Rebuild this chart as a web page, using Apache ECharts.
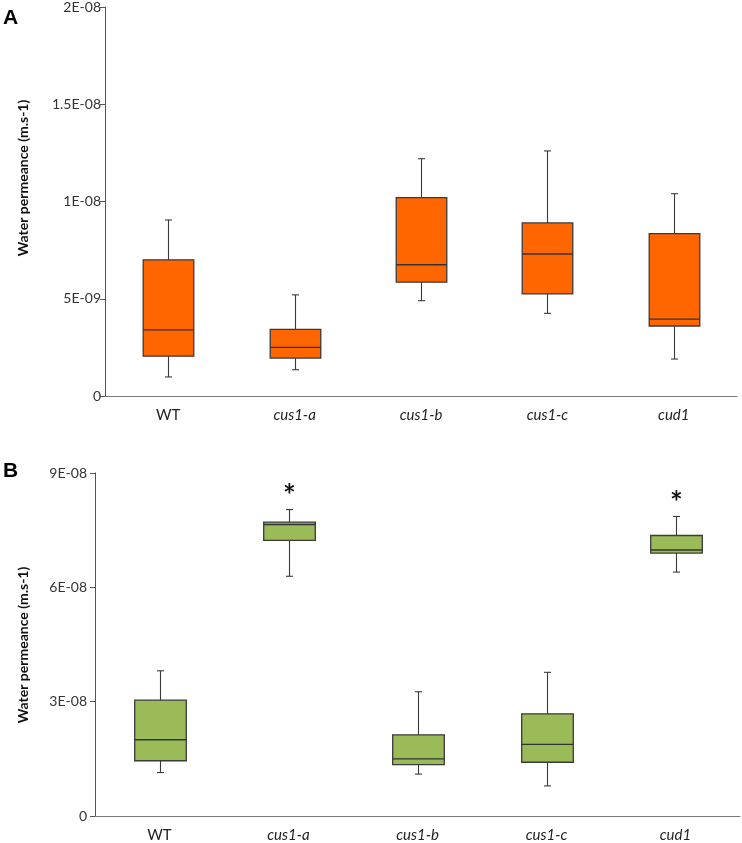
<!DOCTYPE html>
<html>
<head>
<meta charset="utf-8">
<script src="https://cdn.jsdelivr.net/npm/echarts@6/dist/echarts.min.js"></script>
<style>html,body{margin:0;padding:0;background:#fff}#c{width:742px;height:843px}</style>
</head>
<body>
<div id="c"></div>
<script>
// ---- data ----
const categories = ['WT', 'cus1-a', 'cus1-b', 'cus1-c', 'cud1'];
const italicCats = [false, true, true, true, true];
// [min, Q1, median, Q3, max]
const permeanceA = [
  [0.98e-9, 2.05e-9, 3.4e-9, 7.0e-9, 9.05e-9],
  [1.35e-9, 1.95e-9, 2.5e-9, 3.43e-9, 5.2e-9],
  [4.9e-9, 5.85e-9, 6.75e-9, 10.2e-9, 12.2e-9],
  [4.25e-9, 5.25e-9, 7.3e-9, 8.9e-9, 12.6e-9],
  [1.9e-9, 3.6e-9, 3.95e-9, 8.35e-9, 10.4e-9]
];
const permeanceB = [
  [1.14e-8, 1.45e-8, 2.0e-8, 3.04e-8, 3.81e-8],
  [6.29e-8, 7.23e-8, 7.65e-8, 7.71e-8, 8.04e-8],
  [1.10e-8, 1.35e-8, 1.50e-8, 2.13e-8, 3.26e-8],
  [0.79e-8, 1.41e-8, 1.88e-8, 2.68e-8, 3.77e-8],
  [6.40e-8, 6.90e-8, 6.98e-8, 7.36e-8, 7.86e-8]
];
const significanceB = ['', '*', '', '', '*'];
const yTicksA = ['0', '5E-09', '1E-08', '1.5E-08', '2E-08'];
const yTicksB = ['0', '3E-08', '6E-08', '9E-08'];
const yMaxA = 2e-8, yStepA = 5e-9;
const yMaxB = 9e-8, yStepB = 3e-8;
const yTitle = 'Water permeance (m.s-1)';

// ---- chart ----
const chart = echarts.init(document.getElementById('c'), null, {renderer: 'canvas'});
const FONT = 'Lato, "Open Sans", sans-serif';

function toRows(arr, sig) {
  return arr.map((d, i) => [i].concat(d).concat([sig ? sig[i] : '']));
}

function makeRender(fill) {
  return function (params, api) {
    const x = api.value(0);
    const lo = api.coord([x, api.value(1)]);
    const q1 = api.coord([x, api.value(2)]);
    const md = api.coord([x, api.value(3)]);
    const q3 = api.coord([x, api.value(4)]);
    const hi = api.coord([x, api.value(5)]);
    const star = api.value(6);
    const band = api.size([1, 0])[0];
    const bw = band * 0.4;
    const cx = Math.round(md[0]) + 0.5;
    const cap = 3.5;
    const stroke = '#3a3a3a';
    const lw = 1.1;
    const children = [
      {type: 'line', shape: {x1: cx, y1: lo[1], x2: cx, y2: hi[1]}, style: {stroke: stroke, lineWidth: lw}},
      {type: 'line', shape: {x1: cx - cap, y1: lo[1], x2: cx + cap, y2: lo[1]}, style: {stroke: stroke, lineWidth: lw}},
      {type: 'line', shape: {x1: cx - cap, y1: hi[1], x2: cx + cap, y2: hi[1]}, style: {stroke: stroke, lineWidth: lw}},
      {type: 'rect', shape: {x: cx - bw / 2, y: q3[1], width: bw, height: q1[1] - q3[1]}, style: {fill: fill, stroke: stroke, lineWidth: 1.3}},
      {type: 'line', shape: {x1: cx - bw / 2, y1: md[1], x2: cx + bw / 2, y2: md[1]}, style: {stroke: '#333', lineWidth: 1.4}}
    ];
    if (star) {
      children.push({type: 'text', x: cx, y: hi[1] - 13, style: {text: star, fill: '#111', font: 'bold 30px ' + FONT, align: 'center', verticalAlign: 'middle'}});
    }
    return {type: 'group', children: children};
  };
}

const catLabel = {
  fontFamily: FONT, fontSize: 15, color: '#222', margin: 12,
  formatter: function (v, i) { return italicCats[i] ? '{it|' + v + '}' : v; },
  rich: {it: {fontStyle: 'italic', fontFamily: FONT, fontSize: 15, color: '#222'}}
};

const titleStyle = {text: yTitle, font: 'bold 14px ' + FONT, fill: '#111', align: 'center', verticalAlign: 'middle'};

chart.setOption({
  animation: false,
  backgroundColor: '#fff',
  grid: [
    {left: 105, right: 5, top: 7, bottom: 447},
    {left: 95, right: 2, top: 473, bottom: 26}
  ],
  xAxis: [0, 1].map(g => ({
    type: 'category', gridIndex: g, data: categories,
    axisLine: {lineStyle: {color: '#7a7a7a', width: 1.2}},
    axisTick: {show: false},
    axisLabel: catLabel,
    splitLine: {show: false}
  })),
  yAxis: [
    {
      type: 'value', gridIndex: 0, min: 0, max: yMaxA, interval: yStepA,
      axisLine: {show: true, lineStyle: {color: '#555', width: 1}},
      axisTick: {show: true, length: 5, lineStyle: {color: '#555'}},
      splitLine: {show: false},
      axisLabel: {fontFamily: FONT, fontSize: 14, color: '#333', margin: 4,
        formatter: v => yTicksA[Math.round(v / yStepA)]}
    },
    {
      type: 'value', gridIndex: 1, min: 0, max: yMaxB, interval: yStepB,
      axisLine: {show: true, lineStyle: {color: '#555', width: 1}},
      axisTick: {show: true, length: 5, lineStyle: {color: '#555'}},
      splitLine: {show: false},
      axisLabel: {fontFamily: FONT, fontSize: 14, color: '#333', margin: 8,
        formatter: v => yTicksB[Math.round(v / yStepB)]}
    }
  ],
  graphic: [
    {type: 'text', left: 3, top: 8, style: {text: 'A', font: 'bold 21px Arial, "Liberation Sans", sans-serif', fill: '#000'}},
    {type: 'text', left: 3, top: 461, style: {text: 'B', font: 'bold 21px Arial, "Liberation Sans", sans-serif', fill: '#000'}},
    {type: 'text', x: 23, y: 178, rotation: Math.PI / 2, style: titleStyle},
    {type: 'text', x: 23, y: 645, rotation: Math.PI / 2, style: titleStyle}
  ],
  series: [
    {
      type: 'custom', xAxisIndex: 0, yAxisIndex: 0,
      data: toRows(permeanceA, null),
      encode: {x: 0, y: [1, 2, 3, 4, 5]},
      renderItem: makeRender('#FF6600')
    },
    {
      type: 'custom', xAxisIndex: 1, yAxisIndex: 1,
      data: toRows(permeanceB, significanceB),
      encode: {x: 0, y: [1, 2, 3, 4, 5]},
      renderItem: makeRender('#9BBB59')
    }
  ]
});
</script>
</body>
</html>
